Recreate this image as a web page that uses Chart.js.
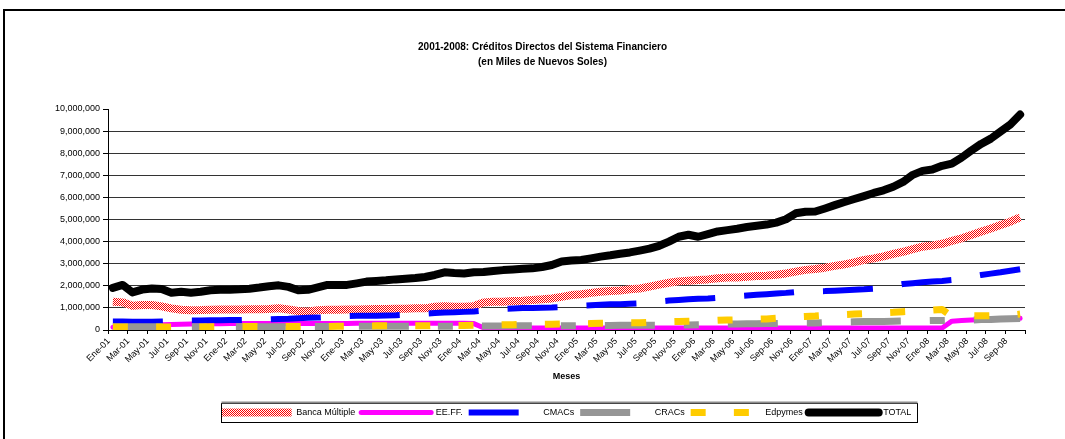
<!DOCTYPE html>
<html>
<head>
<meta charset="utf-8">
<title>Créditos Directos del Sistema Financiero 2001-2008</title>
<script src="https://cdn.jsdelivr.net/npm/chart.js@4.4.1/dist/chart.umd.min.js"></script>
<style>
  html, body { margin: 0; padding: 0; background: #fff; overflow: hidden; }
  #marco { position: absolute; left: 3px; top: 9px; width: 1200px; height: 600px; border: 2px solid #000; }
  #caja { position: absolute; left: 0; top: 0; width: 1085px; height: 439px; }
</style>
</head>
<body>
<div id="marco"></div>
<div id="caja"><canvas id="myChart"></canvas></div>
<script>
// meses de Ene-01 a Oct-08
const anios = [2001, 2002, 2003, 2004, 2005, 2006, 2007, 2008];
const mesesAbrev = ['Ene', 'Feb', 'Mar', 'Abr', 'May', 'Jun', 'Jul', 'Ago', 'Sep', 'Oct', 'Nov', 'Dic'];
const totalMeses = 94;

// saldos en miles de nuevos soles
const bancaMultiple = [
  1280000,1250000,1100000,1130000,1130000,1070000,980000,920000,890000,900000,
  920000,930000,930000,930000,940000,940000,950000,980000,930000,860000,
  840000,890000,920000,920000,930000,930000,940000,950000,950000,960000,
  960000,980000,980000,1050000,1080000,1050000,1050000,1080000,1240000,1280000,
  1280000,1310000,1320000,1360000,1390000,1430000,1500000,1580000,1620000,1680000,
  1730000,1760000,1790000,1840000,1880000,1960000,2050000,2140000,2200000,2230000,
  2260000,2290000,2340000,2370000,2380000,2410000,2440000,2460000,2500000,2560000,
  2640000,2720000,2760000,2820000,2900000,2970000,3060000,3170000,3240000,3330000,
  3440000,3540000,3660000,3770000,3830000,3900000,4030000,4150000,4300000,4450000,
  4590000,4750000,4900000,5100000
];
const eeff = [
  130000,160000,190000,210000,230000,240000,250000,260000,270000,270000,
  280000,280000,290000,290000,290000,290000,290000,290000,290000,290000,
  290000,290000,290000,290000,290000,300000,300000,300000,300000,300000,
  300000,300000,300000,300000,300000,300000,300000,290000,100000,90000,
  90000,90000,90000,90000,90000,90000,90000,90000,90000,90000,
  90000,90000,90000,90000,90000,90000,90000,90000,90000,90000,
  90000,90000,90000,90000,90000,90000,90000,90000,90000,90000,
  90000,90000,90000,90000,90000,90000,90000,90000,90000,90000,
  90000,90000,90000,90000,90000,90000,400000,430000,450000,470000,
  480000,500000,510000,530000
];
const cmacs = [
  380000,380000,370000,370000,370000,380000,390000,410000,430000,430000,
  440000,440000,450000,450000,460000,470000,480000,500000,510000,530000,
  550000,560000,580000,610000,630000,640000,650000,650000,660000,670000,
  690000,720000,740000,770000,790000,800000,820000,840000,880000,920000,
  950000,970000,990000,1000000,1010000,1020000,1040000,1070000,1100000,1120000,
  1140000,1160000,1170000,1190000,1210000,1250000,1290000,1330000,1360000,1390000,
  1410000,1430000,1460000,1500000,1530000,1560000,1590000,1620000,1650000,1680000,
  1720000,1730000,1750000,1760000,1780000,1800000,1820000,1840000,1870000,1940000,
  2010000,2080000,2120000,2160000,2190000,2220000,2260000,2340000,2420000,2490000,
  2550000,2610000,2680000,2750000
];
const cracs = [
  150000,150000,150000,150000,150000,150000,150000,150000,150000,150000,
  150000,150000,150000,150000,150000,150000,150000,150000,150000,160000,
  160000,160000,160000,160000,160000,170000,170000,170000,170000,170000,
  170000,170000,170000,170000,170000,170000,180000,180000,180000,180000,
  180000,190000,190000,190000,190000,190000,190000,190000,200000,200000,
  200000,200000,210000,210000,210000,210000,210000,220000,230000,230000,
  240000,250000,260000,270000,270000,280000,280000,290000,290000,300000,
  310000,320000,320000,340000,350000,360000,370000,380000,380000,390000,
  400000,410000,420000,420000,430000,430000,440000,450000,450000,470000,
  480000,500000,510000,520000
];
const edpymes = [
  140000,140000,140000,140000,140000,140000,140000,140000,140000,140000,
  150000,150000,150000,160000,160000,160000,160000,160000,160000,160000,
  160000,160000,160000,170000,170000,180000,180000,190000,190000,190000,
  190000,190000,190000,190000,200000,200000,200000,210000,220000,230000,
  240000,240000,250000,250000,260000,260000,270000,280000,280000,290000,
  300000,310000,320000,330000,330000,350000,360000,380000,390000,400000,
  410000,420000,440000,450000,460000,470000,490000,500000,530000,560000,
  590000,610000,630000,660000,680000,700000,720000,740000,760000,780000,
  800000,830000,850000,880000,900000,930000,620000,630000,640000,640000,
  650000,660000,670000,720000
];
const total = [
  1910000,2040000,1700000,1830000,1880000,1860000,1690000,1730000,1690000,1730000,
  1800000,1820000,1820000,1840000,1870000,1920000,1980000,2020000,1950000,1800000,
  1820000,1930000,2040000,2040000,2040000,2110000,2190000,2220000,2250000,2290000,
  2320000,2350000,2400000,2490000,2610000,2580000,2560000,2610000,2620000,2670000,
  2710000,2740000,2770000,2790000,2850000,2940000,3100000,3140000,3170000,3240000,
  3320000,3380000,3450000,3510000,3590000,3680000,3810000,4000000,4220000,4310000,
  4220000,4340000,4460000,4520000,4580000,4660000,4720000,4770000,4860000,5010000,
  5280000,5350000,5360000,5500000,5650000,5790000,5930000,6060000,6200000,6320000,
  6480000,6700000,7020000,7200000,7260000,7430000,7530000,7800000,8120000,8420000,
  8660000,8980000,9300000,9750000
];

const etiquetas = [];
anios.forEach(a => mesesAbrev.forEach(m => {
  if (etiquetas.length < totalMeses) etiquetas.push(m + '-' + String(a).slice(2));
}));

// trama de cuadritos rojos para Banca Múltiple
function tramaCuadros() {
  const c = document.createElement('canvas');
  c.width = 2; c.height = 2;
  const g = c.getContext('2d');
  g.fillStyle = '#ffffff';
  g.fillRect(0, 0, 2, 2);
  g.fillStyle = '#ff0000';
  g.fillRect(0, 0, 1, 1);
  g.fillRect(1, 1, 1, 1);
  return g.createPattern(c, 'repeat');
}

// centra la leyenda bajo el area del grafico y le pone un marco
const marcoLeyenda = {
  id: 'marcoLeyenda',
  afterLayout(chart) {
    const lg = chart.legend, ca = chart.chartArea;
    const dx = (ca.left + ca.right) / 2 - (lg.left + lg.right) / 2;
    lg.left += dx;
    lg.right += dx;
  },
  afterDraw(chart) {
    const lg = chart.legend;
    const hb = lg.legendHitBoxes;
    if (!hb || !hb.length) return;
    const ctx = chart.ctx;
    const x0 = Math.round(hb[0].left) - 0.5;
    const last = hb[hb.length - 1];
    const x1 = Math.round(last.left + last.width + 6) + 0.5;
    const y0 = Math.round(lg.top + 1) + 0.5;
    const y1 = Math.round(lg.top + 20) + 0.5;
    ctx.save();
    ctx.strokeStyle = '#000';
    ctx.lineWidth = 1;
    ctx.strokeRect(x0, y0, x1 - x0, y1 - y0);
    ctx.strokeStyle = '#8c8c8c';
    ctx.lineWidth = 2;
    ctx.beginPath();
    ctx.moveTo(x0, y0 - 1);
    ctx.lineTo(x1, y0 - 1);
    ctx.stroke();
    ctx.restore();
  }
};

// muestras de la leyenda con el mismo trazo de cada serie
function etiquetasLeyenda(chart) {
  const items = Chart.defaults.plugins.legend.labels.generateLabels(chart);
  items.forEach(it => {
    const ds = chart.data.datasets[it.datasetIndex];
    it.strokeStyle = ds.borderColor;
    it.lineWidth = ds.borderWidth;
    it.lineDash = ds.borderDash || [];
    it.lineCap = ds.borderCapStyle;
  });
  return items;
}

Chart.defaults.font.family = "'Liberation Sans', Arial, sans-serif";
Chart.defaults.color = '#000';

const base = { pointRadius: 0, tension: 0, fill: false, clip: 0, borderJoinStyle: 'round' };

const data = {
  labels: etiquetas,
  datasets: [
    Object.assign({ label: 'Banca Múltiple', data: bancaMultiple, borderColor: tramaCuadros(), backgroundColor: '#ff0000', borderWidth: 8, borderCapStyle: 'butt', order: 6 }, base),
    Object.assign({ label: 'EE.FF.', data: eeff, borderColor: '#ff00ff', backgroundColor: '#ff00ff', borderWidth: 5, borderCapStyle: 'round', order: 5 }, base),
    Object.assign({ label: 'CMACs', data: cmacs, borderColor: '#0000ff', backgroundColor: '#0000ff', borderWidth: 6, borderDash: [50, 29], borderCapStyle: 'butt', order: 4 }, base),
    Object.assign({ label: 'CRACs', data: cracs, borderColor: '#969696', backgroundColor: '#969696', borderWidth: 7, borderDash: [50, 29, 15, 29], borderCapStyle: 'butt', order: 3 }, base),
    Object.assign({ label: 'Edpymes', data: edpymes, borderColor: '#ffcc00', backgroundColor: '#ffcc00', borderWidth: 7, borderDash: [15, 28.2], borderCapStyle: 'butt', order: 2 }, base),
    Object.assign({ label: 'TOTAL', data: total, borderColor: '#000000', backgroundColor: '#000000', borderWidth: 8, borderCapStyle: 'round', order: 1 }, base)
  ]
};

const config = {
  type: 'line',
  data,
  plugins: [marcoLeyenda],
  options: {
    responsive: true,
    maintainAspectRatio: false,
    animation: false,
    events: [],
    layout: { padding: { left: 0, right: 0, top: 0, bottom: 12 } },
    plugins: {
      tooltip: { enabled: false },
      title: {
        display: true,
        text: ['2001-2008: Créditos Directos del Sistema Financiero', '(en Miles de Nuevos Soles)'],
        color: '#000',
        font: { size: 10, weight: 'bold', lineHeight: 1.5 },
        padding: { top: 40, bottom: 39 }
      },
      legend: {
        position: 'bottom',
        labels: {
          usePointStyle: true,
          pointStyle: 'line',
          pointStyleWidth: 70,
          padding: 6,
          color: '#000',
          font: { size: 9 },
          generateLabels: etiquetasLeyenda,
          sort: (a, b) => a.datasetIndex - b.datasetIndex
        }
      }
    },
    scales: {
      x: {
        offset: true,
        grid: {
          offset: true,
          drawOnChartArea: false,
          tickLength: 4,
          color: c => (c.index === undefined || c.index % 2 === 0) ? '#000' : 'rgba(0,0,0,0)'
        },
        border: { color: '#000', width: 1 },
        ticks: {
          autoSkip: false,
          minRotation: 45,
          maxRotation: 45,
          labelOffset: -4,
          padding: 2,
          color: '#000',
          font: { size: 9 },
          callback: function (v, i) { return i % 2 === 0 ? this.getLabelForValue(v) : ''; }
        },
        title: { display: true, text: 'Meses', color: '#000', font: { size: 9, weight: 'bold' }, padding: { top: 0, bottom: 20 } },
        afterFit: s => { s.height = 72; s.paddingRight = 60; }
      },
      y: {
        min: 0,
        max: 10000000,
        ticks: {
          stepSize: 1000000,
          padding: 3,
          color: '#000',
          font: { size: 9 },
          callback: v => v.toLocaleString('en-US')
        },
        grid: {
          color: c => (c.tick && c.tick.value === 10000000) ? 'rgba(0,0,0,0)' : '#333',
          tickColor: '#000',
          tickLength: 5
        },
        border: { color: '#000', width: 1 },
        afterFit: s => { s.width = 108; }
      }
    }
  }
};

const myChart = new Chart(document.getElementById('myChart'), config);
</script>
</body>
</html>
